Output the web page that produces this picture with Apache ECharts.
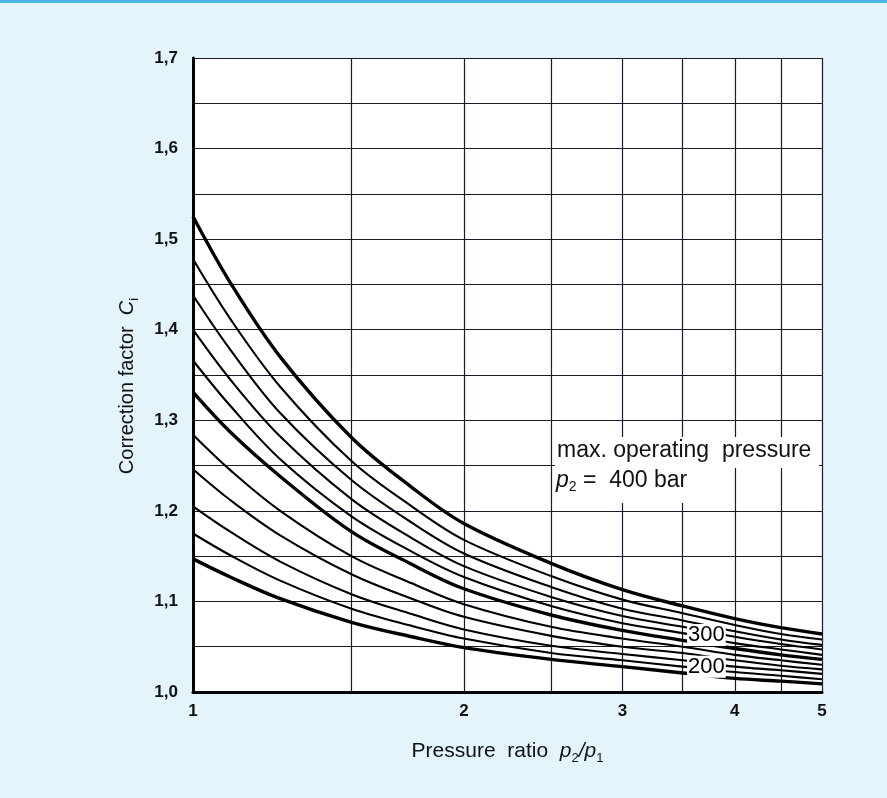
<!DOCTYPE html>
<html><head><meta charset="utf-8">
<script src="https://cdn.jsdelivr.net/npm/echarts@6/dist/echarts.min.js"></script>
<style>
html,body{margin:0;padding:0;background:#e3f4fa;}
#c{width:887px;height:798px;border-top:3px solid #4fb4e2;box-sizing:border-box;}
</style></head><body><div id="c"></div>
<script>
// Pressure ratio p2/p1 sample points
const ratios = [1, 1.1, 1.25, 1.5, 1.75, 2, 2.5, 3, 3.5, 4, 4.5, 5];
// Correction factor curves (top to bottom)
const c01 = [1.525, 1.452, 1.370, 1.281, 1.226, 1.186, 1.142, 1.113, 1.095, 1.081, 1.071, 1.064];
const c02 = [1.478, 1.412, 1.337, 1.255, 1.205, 1.168, 1.128, 1.102, 1.087, 1.074, 1.064, 1.058];
const c03 = [1.438, 1.378, 1.308, 1.234, 1.187, 1.153, 1.116, 1.092, 1.079, 1.067, 1.058, 1.052];
const c04 = [1.400, 1.345, 1.282, 1.213, 1.170, 1.139, 1.105, 1.084, 1.072, 1.061, 1.053, 1.047];
const c05 = [1.366, 1.316, 1.257, 1.194, 1.155, 1.127, 1.095, 1.076, 1.065, 1.054, 1.047, 1.041];
const c06 = [1.331, 1.287, 1.238, 1.177, 1.141, 1.114, 1.085, 1.068, 1.057, 1.048, 1.041, 1.036];
const c07 = [1.284, 1.245, 1.200, 1.150, 1.120, 1.097, 1.072, 1.059, 1.050, 1.041, 1.035, 1.030];
const c08 = [1.246, 1.212, 1.173, 1.130, 1.103, 1.083, 1.062, 1.050, 1.043, 1.035, 1.029, 1.025];
const c09 = [1.205, 1.177, 1.144, 1.108, 1.086, 1.069, 1.051, 1.042, 1.035, 1.028, 1.024, 1.020];
const c10 = [1.175, 1.151, 1.123, 1.092, 1.073, 1.059, 1.043, 1.035, 1.028, 1.022, 1.018, 1.014];
const c11 = [1.147, 1.127, 1.103, 1.077, 1.061, 1.049, 1.036, 1.028, 1.021, 1.015, 1.012, 1.009];
const curves = [c01, c02, c03, c04, c05, c06, c07, c08, c09, c10, c11];
const thickCurves = [0, 5, 10];
// axis ticks
const gridRatios = [1, 1.5, 2, 2.5, 3, 3.5, 4, 4.5, 5];
const xTickLabels = [1, 2, 3, 4, 5];
// curve labels
const curveLabelText = ['300', '200'];
const curveLabelRatio = [3.72, 3.72];
const curveLabelValue = [1.063, 1.028];

const FONT = '"Liberation Sans", Arial, sans-serif';
const lg = v => Math.log10(v);

const series = curves.map((c, i) => ({
  type: 'line',
  name: 'curve ' + (i + 1),
  data: ratios.map((r, k) => [lg(r), c[k]]),
  smooth: 0.35,
  showSymbol: false,
  silent: true,
  lineStyle: { color: '#000', width: thickCurves.includes(i) ? 3.4 : 2.1 },
  z: 3
}));
series.push({
  type: 'scatter',
  symbolSize: 0,
  silent: true,
  z: 10,
  itemStyle: { opacity: 1 },
  data: curveLabelText.map((t, i) => ({ name: t, value: [lg(curveLabelRatio[i]), curveLabelValue[i]] })),
  label: {
    show: true, position: 'inside', formatter: '{b}',
    color: '#000', fontFamily: FONT, fontSize: 22,
    textBorderWidth: 0, opacity: 1,
    backgroundColor: '#fff', padding: [0, 1, 0, 1]
  }
});

const sub = { fontFamily: FONT, fontSize: 13, verticalAlign: 'bottom', lineHeight: 13, color: '#111' };
const it = { fontFamily: FONT, fontSize: 20, fontStyle: 'italic', lineHeight: 27, color: '#111' };
const tx = { fontFamily: FONT, fontSize: 20, lineHeight: 27, color: '#111' };
const itX = Object.assign({}, it, { fontSize: 21 });
const txX = Object.assign({}, tx, { fontSize: 21 });

const chart = echarts.init(document.getElementById('c'));
chart.setOption({
  animation: false,
  backgroundColor: 'transparent',
  grid: { left: 193, top: 55, width: 629, height: 634, show: true, backgroundColor: '#fff', borderWidth: 0 },
  xAxis: {
    type: 'value', min: 0, max: lg(5),
    name: '{t|Pressure  ratio  }{i|p}{s|2}{i|/p}{s|1}',
    nameLocation: 'middle', nameGap: 46,
    nameTextStyle: { rich: { t: txX, i: itX, s: sub } },
    axisLine: { show: true, onZero: false, lineStyle: { color: '#000', width: 3 } },
    axisTick: { show: false, customValues: gridRatios.map(lg) },
    axisLabel: {
      customValues: xTickLabels.map(lg),
      formatter: v => String(Math.round(Math.pow(10, v))),
      fontFamily: FONT, fontSize: 17, fontWeight: 'bold', color: '#111', margin: 11
    },
    splitLine: { show: true, lineStyle: { color: '#1a1a2a', width: 1.2 } }
  },
  yAxis: {
    type: 'value', min: 1.0, max: 1.7, interval: 0.05,
    name: '{t|Correction factor  }{i|C}{s|i}',
    nameLocation: 'middle', nameGap: 52, nameRotate: 90,
    nameTextStyle: { rich: { t: tx, i: it, s: sub }, padding: [0, 22, 0, 0] },
    axisLine: { show: true, lineStyle: { color: '#000', width: 3 } },
    axisTick: { show: false },
    axisLabel: {
      formatter: v => (Math.round(v * 100) % 10 === 0 ? v.toFixed(1).replace('.', ',') : ''),
      fontFamily: FONT, fontSize: 17, fontWeight: 'bold', color: '#111', margin: 15
    },
    splitLine: { show: true, lineStyle: { color: '#1a1a2a', width: 1.2 } }
  },
  graphic: [
    { type: 'rect', z: 20, shape: { x: 555, y: 434, width: 264, height: 31 }, style: { fill: '#fff' } },
    { type: 'rect', z: 20, shape: { x: 555, y: 465, width: 158, height: 35 }, style: { fill: '#fff' } },
    { type: 'text', z: 21, left: 557, top: 436, style: { text: 'max. operating  pressure', font: '23px ' + FONT, fill: '#111' } },
    { type: 'text', z: 21, left: 556, top: 466, style: {
        text: '{i|p}{s|2}{t| =  400 bar}',
        rich: {
          i: { font: 'italic 23px ' + FONT, fill: '#111', lineHeight: 28 },
          s: { font: '14px ' + FONT, fill: '#111', verticalAlign: 'bottom', lineHeight: 12 },
          t: { font: '23px ' + FONT, fill: '#111', lineHeight: 28 }
        } } }
  ],
  series: series
});
</script>
</body></html>
